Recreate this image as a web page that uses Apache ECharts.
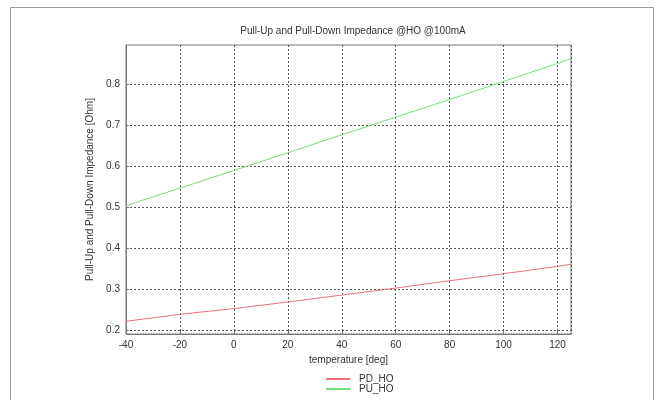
<!DOCTYPE html>
<html>
<head>
<meta charset="utf-8">
<script src="https://cdn.jsdelivr.net/npm/echarts@6/dist/echarts.min.js"></script>
<style>
  html, body { margin: 0; padding: 0; background: #fff; }
  #main { width: 657px; height: 400px; }
</style>
</head>
<body>
<div id="main"></div>
<script>
// temperature points [deg]
const temps = [-40, -20, 0, 20, 40, 60, 80, 100, 120, 125];
// impedance [Ohm]
const pdHO = [0.221, 0.238, 0.252, 0.268, 0.285, 0.302, 0.320, 0.337, 0.355, 0.360];
const puHO = [0.503, 0.546, 0.589, 0.632, 0.676, 0.719, 0.762, 0.806, 0.850, 0.862];
const yTicks = [0.2, 0.3, 0.4, 0.5, 0.6, 0.7, 0.8];

const myChart = echarts.init(document.querySelector('#main'));

const gridLine = { show: true, lineStyle: { color: '#555', type: [2, 2], width: 1 } };
const labelFont = { fontFamily: 'Liberation Sans', fontSize: 10, color: '#333' };

const option = {
  animation: false,
  backgroundColor: '#fff',
  graphic: [
    {
      type: 'rect',
      shape: { x: 10.5, y: 7.5, width: 643, height: 400 },
      style: { fill: 'none', stroke: '#999', lineWidth: 1 },
      z: -1,
    },
  ],
  title: {
    text: 'Pull-Up and Pull-Down Impedance @HO @100mA',
    left: 348,
    textAlign: 'center',
    top: 21,
    textStyle: { fontFamily: 'Liberation Sans', fontSize: 10, fontWeight: 'normal', color: '#333' },
  },
  grid: {
    left: 126,
    right: 86,
    top: 45,
    bottom: 66,
    show: true,
    borderColor: '#777',
    borderWidth: 1,
  },
  legend: {
    orient: 'vertical',
    left: 320,
    top: 369,
    height: 30,
    itemWidth: 24,
    itemHeight: 8,
    itemGap: 0,
    textStyle: { fontFamily: 'Liberation Sans', fontSize: 10, lineHeight: 10, color: '#333', padding: [0, 0, 0, 4] },
    itemStyle: { opacity: 0 },
    data: ['PD_HO', 'PU_HO'],
  },
  xAxis: {
    type: 'value',
    min: -40,
    max: 125,
    interval: 20,
    name: 'temperature [deg]',
    nameLocation: 'middle',
    nameGap: 17,
    nameTextStyle: labelFont,
    axisLine: { show: true, onZero: false, lineStyle: { color: '#777' } },
    axisTick: { show: true, inside: true, length: 3, lineStyle: { color: '#777' } },
    axisLabel: Object.assign({ margin: 6, showMaxLabel: false }, labelFont),
    splitLine: gridLine,
  },
  yAxis: {
    type: 'value',
    min: 0.19,
    max: 0.895,
    name: 'Pull-Up and Pull-Down Impedance [Ohm]',
    nameLocation: 'middle',
    nameGap: 27,
    nameTextStyle: labelFont,
    axisLine: { show: true, onZero: false, lineStyle: { color: '#777' } },
    axisTick: { show: true, inside: true, length: 3, customValues: yTicks, lineStyle: { color: '#777' } },
    axisLabel: Object.assign({ margin: 6, customValues: yTicks, formatter: (v) => v.toFixed(1) }, labelFont),
    splitLine: gridLine,
  },
  series: [
    {
      name: 'PD_HO',
      type: 'line',
      symbol: 'none',
      data: temps.map((t, i) => [t, pdHO[i]]),
      lineStyle: { color: '#ee6f7c', width: 1 },
      itemStyle: { color: '#ee6f7c' },
    },
    {
      name: 'PU_HO',
      type: 'line',
      symbol: 'none',
      data: temps.map((t, i) => [t, puHO[i]]),
      lineStyle: { color: '#77de77', width: 1 },
      itemStyle: { color: '#77de77' },
    },
  ],
};

option && myChart.setOption(option);
</script>
</body>
</html>
